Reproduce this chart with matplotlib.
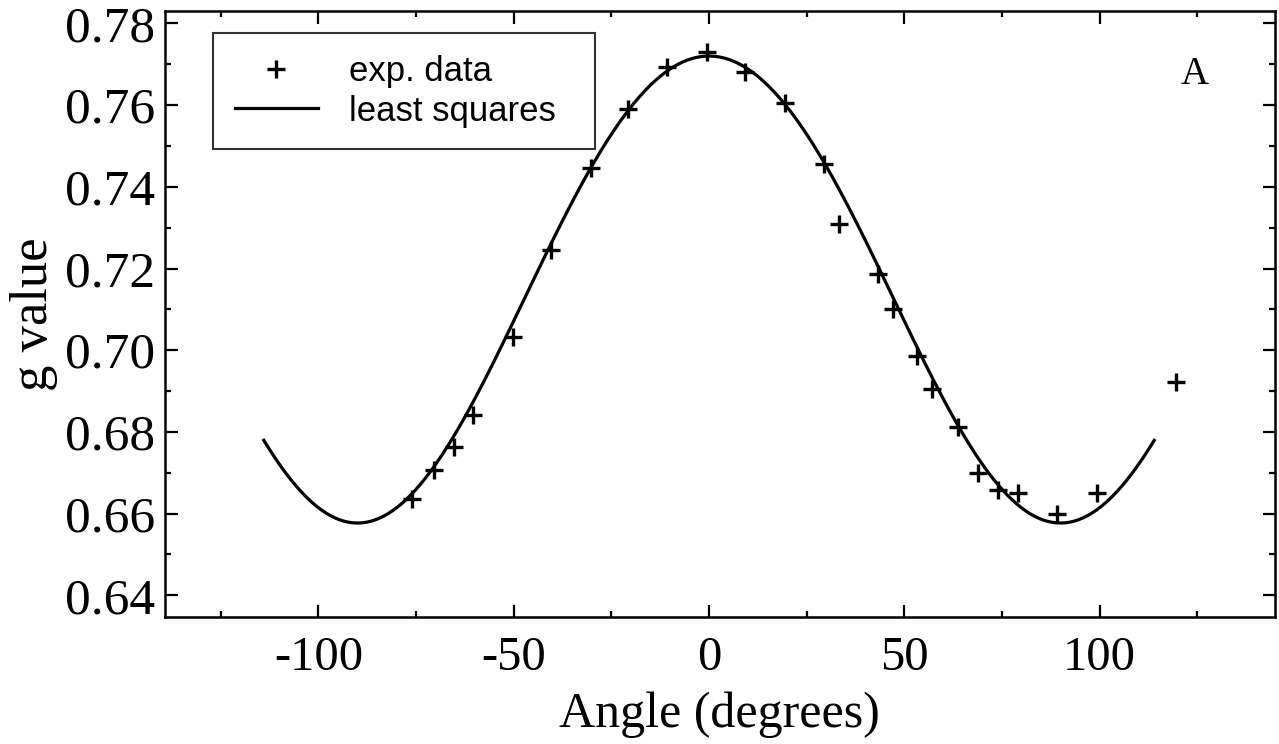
import numpy as np
import matplotlib
matplotlib.use("Agg")
import matplotlib.pyplot as plt
from matplotlib.ticker import MultipleLocator, FormatStrFormatter

plt.rcParams["axes.unicode_minus"] = False

# ---- data ----
angles = [-76, -70.3, -65.3, -60.5, -50.3, -40.5, -30.3, -20.7, -10.8, -0.6,
          9.2, 19.5, 29.5, 33.3, 43.2, 47.2, 53.3, 57.2, 63.8, 69.0,
          73.9, 79.0, 89.0, 99.3, 119.6]
g_values = [0.6637, 0.6706, 0.6762, 0.6842, 0.7032, 0.7246, 0.7447, 0.7590, 0.7692, 0.7729,
            0.7682, 0.7606, 0.7456, 0.7309, 0.7186, 0.7100, 0.6986, 0.6905, 0.6813, 0.6699,
            0.6658, 0.6650, 0.6599, 0.6650, 0.6923]
# least-squares curve parameters (g at 0 deg and at 90 deg)
g_parallel = 0.7720
g_perpendicular = 0.6577
fit_range = (-114, 114)
x_ticks = [-100, -50, 0, 50, 100]
y_ticks = [0.64, 0.66, 0.68, 0.70, 0.72, 0.74, 0.76, 0.78]

t_fit = np.linspace(fit_range[0], fit_range[1], 400)
tr = np.radians(t_fit)
g_fit = np.sqrt(g_parallel ** 2 * np.cos(tr) ** 2 + g_perpendicular ** 2 * np.sin(tr) ** 2)

W, H = 1279, 744
fig = plt.figure(figsize=(W / 100, H / 100), dpi=100)
L, R, T, B = 164.6, 1274.5, 10.7, 617
ax = fig.add_axes([L / W, 1 - B / H, (R - L) / W, (B - T) / H])

serif = ["Liberation Serif", "DejaVu Serif"]
sans = ["Liberation Sans", "DejaVu Sans"]

ax.plot(angles, g_values, linestyle="none", marker="+", color="black",
        markersize=13.5, markeredgewidth=2.4, label="exp. data")
ax.plot(t_fit, g_fit, color="black", linewidth=2.3, label="least squares")

ax.set_xlim(-139.4, 144.8)
ax.set_ylim(0.6347, 0.7831)
ax.set_xticks(x_ticks)
ax.set_yticks(y_ticks)
ax.xaxis.set_minor_locator(MultipleLocator(25))
ax.yaxis.set_minor_locator(MultipleLocator(0.01))
ax.yaxis.set_major_formatter(FormatStrFormatter("%.2f"))

ax.tick_params(which="both", direction="in", top=True, right=True, width=1.6)
ax.tick_params(which="major", length=9)
ax.tick_params(which="minor", length=4.5)
ax.tick_params(axis="x", which="major", pad=14)
ax.tick_params(axis="y", which="major", pad=7)
for lab in ax.get_xticklabels():
    lab.set_fontfamily(serif)
    lab.set_fontsize(35)
for lab in ax.get_yticklabels():
    lab.set_fontfamily(serif)
    lab.set_fontsize(37)
for s in ax.spines.values():
    s.set_linewidth(1.8)

ax.set_xlabel("Angle (degrees)", fontsize=36, family=serif, labelpad=8)
ax.set_ylabel("g value", fontsize=38, family=serif, labelpad=5)

leg = ax.legend(loc="upper left", bbox_to_anchor=(0.0436, 0.7735, 0.3442, 0.1895),
                mode="expand", borderaxespad=0,
                prop={"family": sans, "size": 25}, frameon=True, fancybox=False,
                handlelength=2.4, handletextpad=0.9, borderpad=0.62, labelspacing=0.2)
leg.get_frame().set_edgecolor("black")
leg.get_frame().set_linewidth(1.5)

ax.text((1195 - 709) / 3.905, 0.78 - (75 - 23.5) / 4086, "A", fontsize=28,
        family=serif, ha="center", va="center")

fig.savefig("out.png", dpi=100)
